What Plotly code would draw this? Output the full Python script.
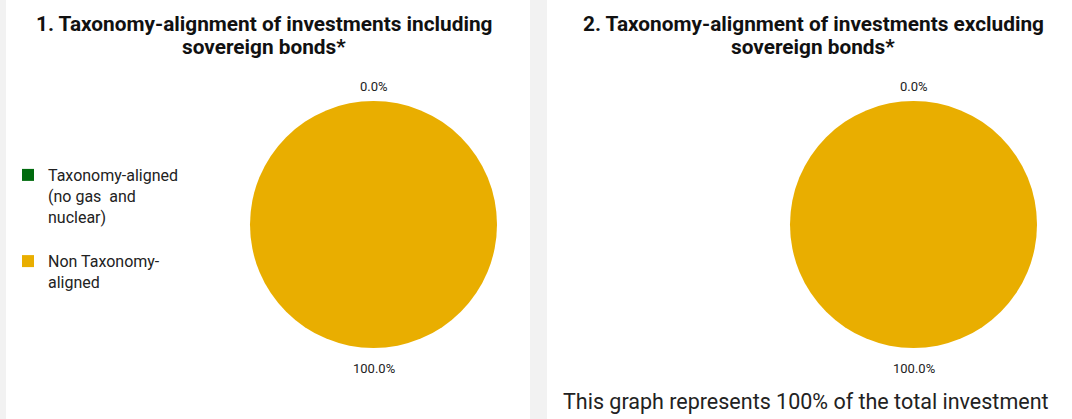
import plotly.graph_objects as go

categories = ["Taxonomy-aligned<br>(no gas  and<br>nuclear)<br> ", "Non Taxonomy-<br>aligned"]
incl_values = [0.0, 100.0]
excl_values = [0.0, 100.0]
colors = ["#006B0E", "#E9AE00"]
title_lines = [["1. Taxonomy-alignment of investments including", "sovereign bonds*"],
               ["2. Taxonomy-alignment of investments excluding", "sovereign bonds*"]]
footnote = "This graph represents 100% of the total investment"

W, H = 1072, 419
FONT = "Roboto, Liberation Sans, sans-serif"

fig = go.Figure()

def px_x(v):
    return v / W

def px_y(v):
    return 1 - v / H

annotations = []
for i, (vals, leg) in enumerate([(incl_values, "legend"), (excl_values, "legend2")]):
    off = i * 540
    fig.add_trace(go.Pie(
        labels=categories, values=vals, sort=False, direction="clockwise", rotation=0,
        marker=dict(colors=colors, line=dict(width=0)),
        textinfo="none",
        domain=dict(x=[px_x(250 + off), px_x(497 + off)], y=[px_y(348), px_y(101)]),
        legend=leg, showlegend=True, hoverinfo="label+percent",
    ))
    total = sum(vals)
    # slice labels: first slice (zero width) at the top, second slice at the bottom
    for val, ypix in zip(vals, [86, 368]):
        annotations.append(dict(
            text=f"{val / total:.1%}", x=px_x(373.5 + off), y=px_y(ypix),
            xref="paper", yref="paper", showarrow=False, xanchor="center", yanchor="middle",
            font=dict(size=13, color="#222", family=FONT)))
    for line, ypix in zip(title_lines[i], [24, 47]):
        annotations.append(dict(
            text=f"<b>{line}</b>", x=px_x(264 + i * 549), y=px_y(ypix),
            xref="paper", yref="paper", showarrow=False, xanchor="center", yanchor="middle",
            font=dict(size=20.8, color="#111", family=FONT)))

shapes = [
    dict(type="rect", xref="paper", yref="paper", x0=px_x(6), x1=px_x(530), y0=-0.2, y1=1.2,
         fillcolor="white", line=dict(width=0), layer="below"),
    dict(type="rect", xref="paper", yref="paper", x0=px_x(547), x1=1.2, y0=-0.2, y1=1.2,
         fillcolor="white", line=dict(width=0), layer="below"),
]

annotations.append(dict(text=footnote, x=px_x(561), y=px_y(401), xref="paper", yref="paper",
                        showarrow=False, font=dict(size=21.5, color="#222", family=FONT),
                        xanchor="left", yanchor="middle"))

legend_common = dict(font=dict(size=16, color="#222", family=FONT), bgcolor="rgba(0,0,0,0)",
                     valign="top", xanchor="left", yanchor="top", itemclick=False)

fig.update_layout(
    width=W, height=H, margin=dict(l=0, r=0, t=0, b=0),
    paper_bgcolor="#F2F2F2", plot_bgcolor="white",
    shapes=shapes, annotations=annotations,
    legend=dict(x=px_x(8), y=px_y(158), **legend_common),
    legend2=dict(x=px_x(549), y=px_y(158), **legend_common),
)

fig.write_html("out.html", config={"displayModeBar": False},
               post_script="document.body.style.margin='0px';")
